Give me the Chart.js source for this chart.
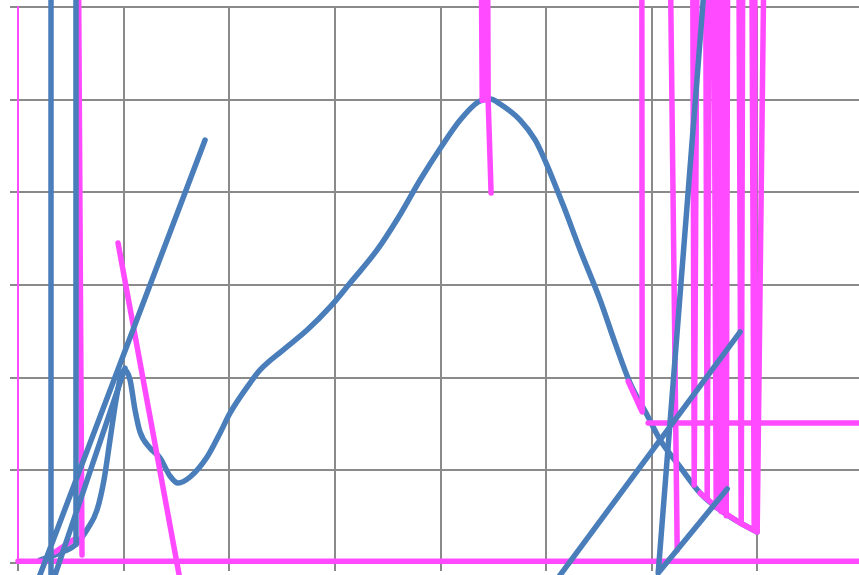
<!DOCTYPE html>
<html>
<head>
<meta charset="utf-8">
<script src="https://cdn.jsdelivr.net/npm/chart.js@4.4.1/dist/chart.umd.min.js"></script>
<style>
  html, body { margin: 0; padding: 0; background: #fff; overflow: hidden; }
  #wrap { width: 866px; height: 575px; }
</style>
</head>
<body>
<div id="wrap"><canvas id="chart"></canvas></div>
<script>
// smooth blue curve
const blueCurveX = [0.208, 0.398, 0.540, 0.663, 0.748, 0.814, 0.871, 0.928, 0.975, 1.013, 1.061, 1.108, 1.155, 1.250,
  1.345, 1.439, 1.515, 1.629, 1.790, 1.913, 2.008, 2.197, 2.292, 2.509, 2.737, 2.955, 3.144, 3.400, 3.598, 3.807,
  4.006, 4.186, 4.356, 4.470, 4.564, 4.754, 4.896, 5.000, 5.161, 5.322, 5.511, 5.653, 5.795, 5.956, 6.080, 6.269,
  6.458, 6.648, 6.837, 6.998];
const blueCurveY = [0.032, 0.108, 0.194, 0.378, 0.572, 0.896, 1.327, 1.759, 2.029, 2.083, 1.975, 1.651, 1.414, 1.241,
  1.133, 0.939, 0.863, 0.928, 1.144, 1.403, 1.619, 1.942, 2.083, 2.298, 2.514, 2.763, 3.021, 3.378, 3.723, 4.133,
  4.489, 4.780, 4.975, 5.007, 4.953, 4.780, 4.565, 4.316, 3.862, 3.378, 2.838, 2.374, 1.942, 1.597, 1.327, 1.036,
  0.755, 0.572, 0.432, 0.335];

// straight blue strokes (null = break)
const blueLineX = [0.3125, 0.3125, null, 0.549, 0.549, null, 0.151, 1.771, null, 0.300, 1.013, null,
  5.022, 6.837, null, 6.620, 6.061, 6.714];
const blueLineY = [8.5, -0.5, null, 8.5, 0.2, null, -0.3, 4.565, null, -0.3, 2.104, null,
  -0.3, 2.493, null, 8.0, -0.108, 0.799];

// pink series (null = break)
const pinkX = [0, 9, null, 0.350, 0.521, null, 0.562, 0.606, null, 0.947, 1.553, null,
  4.375, 4.395, null, 4.405, 4.420, null, 4.440, 4.451, 4.479, null,
  5.777, 5.909, 5.905, null, 5.966, 9, null, 6.155, 6.241, null,
  6.383, 6.402, 6.439, 6.506, 6.525, 6.553, 6.582, 6.610, 6.629, 6.657, 6.676, 6.705, 6.723,
  6.818, 6.847, 6.866, 6.941, 6.970, 6.979, 7.083, 6.998, null,
  6.458, 6.648, 6.837, 6.998];
const pinkY = [0.02, 0.02, null, 0.119, 0.248, null, 8.5, 0.086, null, 3.453, -0.3, null,
  8.5, 4.990, null, 8.5, 5.000, null, 8.5, 4.996, 3.993, null,
  1.96, 1.63, 8.5, null, 1.511, 1.511, null, 8.5, 0.14, null,
  8.5, 0.842, 8.5, 8.5, 0.690, 8.5, 8.5, 0.600, 8.5, 0.555, 8.5, 0.510, 8.5,
  8.5, 0.425, 8.5, 8.5, 0.350, 8.5, 8.5, 0.335, null,
  0.755, 0.572, 0.432, 0.335];

const blue = '#4a7ebb';
const pink = '#ff4aff';
const grid = '#8a8a8a';

function pts(xs, ys) {
  return xs.map((x, i) => ({ x: x, y: ys[i] }));
}

new Chart('chart', {
  type: 'scatter',
  data: {
    datasets: [
      { data: pts(blueLineX, blueLineY), borderColor: blue, tension: 0, order: 0 },
      { data: pts(pinkX, pinkY), borderColor: pink, tension: 0, order: 1 },
      { data: pts(blueCurveX, blueCurveY), borderColor: blue, cubicInterpolationMode: 'monotone', order: 2 }
    ].map(d => Object.assign(d, {
      showLine: true, pointRadius: 0, clip: false, spanGaps: false, borderWidth: 5.5,
      borderCapStyle: 'round', borderJoinStyle: 'round'
    }))
  },
  options: {
    responsive: true,
    maintainAspectRatio: false,
    animation: false,
    layout: { padding: { left: 10, top: 7, right: 3, bottom: 4 } },
    plugins: { legend: { display: false }, tooltip: { enabled: false } },
    scales: {
      x: {
        type: 'linear', min: 0, max: 8,
        ticks: { display: false, stepSize: 1 },
        grid: { color: grid, lineWidth: 2, tickLength: 8 },
        border: { color: grid, width: 2 }
      },
      y: {
        min: 0, max: 6,
        ticks: { display: false, stepSize: 1 },
        grid: { color: grid, lineWidth: 2, tickLength: 8 },
        border: { color: pink, width: 2 }
      }
    }
  }
});
</script>
</body>
</html>
